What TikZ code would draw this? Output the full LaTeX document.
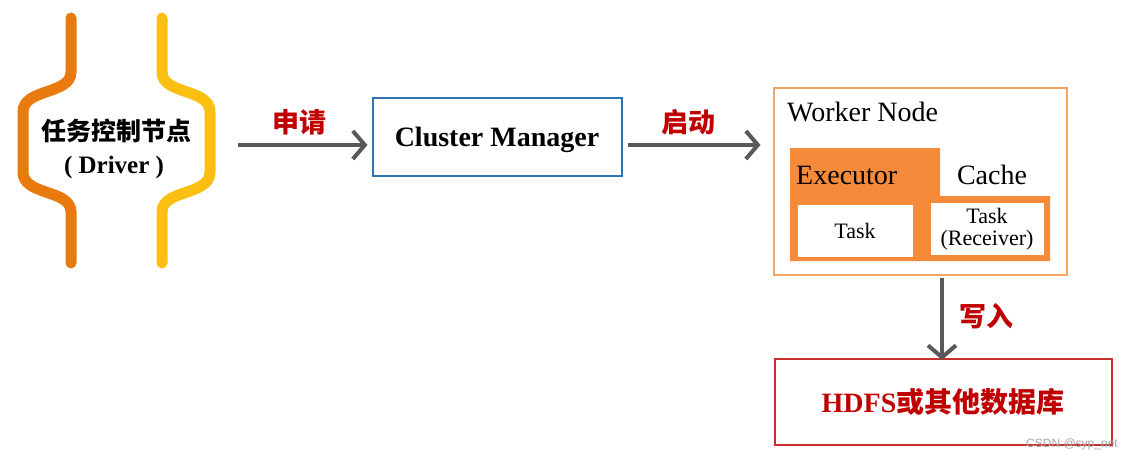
\documentclass[tikz,border=0pt]{standalone}
\usepackage{fontspec}
\setmainfont{Liberation Serif}
\newfontfamily\cjk{Noto Sans CJK SC}
\newfontfamily\wm{Liberation Sans}
\usetikzlibrary{arrows.meta}
\definecolor{borange}{HTML}{E97B0E}
\definecolor{byellow}{HTML}{FBBF12}
\definecolor{agrey}{HTML}{595959}
\definecolor{lred}{HTML}{C00000}
\definecolor{cmblue}{HTML}{2E75B6}
\definecolor{wnorange}{HTML}{F4A463}
\definecolor{exorange}{HTML}{F58B3A}
\definecolor{hdred}{HTML}{C9302C}
\tikzset{
  flowarrow/.style={draw=agrey, line width=4pt, -{Straight Barb[length=12pt,width=28pt,line width=4pt]}},
  lbl/.style={font=\cjk\bfseries\fontsize{27}{29}\selectfont, text=lred, inner sep=0pt},
  bracketline/.style={line width=11pt, line cap=round},
}
\begin{document}
\begin{tikzpicture}[x=1pt,y=-1pt]
\useasboundingbox (0,0) rectangle (1127,461);
\fill[white] (0,0) rectangle (1127,461);
% brackets
\draw[bracketline, draw=borange] (71,18) -- (71,72) .. controls (71,95) and (23,88) .. (23,112) -- (23,172) .. controls (23,196) and (71,189) .. (71,212) -- (71,263);
\draw[bracketline, draw=byellow] (162,18) -- (162,72) .. controls (162,95) and (210,88) .. (210,112) -- (210,172) .. controls (210,196) and (162,189) .. (162,212) -- (162,263);
\node[font=\cjk\bfseries\fontsize{25}{27}\selectfont, inner sep=0pt] (drv) at (116,131) {任务控制节点};
\node[font=\bfseries\fontsize{25}{27}\selectfont, inner sep=0pt] (drv2) at (114,167) {( Driver )};
\coordinate (a1s) at (238,145);
% cluster manager
\node[draw=cmblue, line width=2pt, minimum width=249pt, minimum height=78pt] (cm) at (497,137) {};
\node[font=\bfseries\fontsize{28}{30}\selectfont, inner sep=0pt] (cmt) at (497,140) {Cluster Manager};
\draw[flowarrow] (a1s) -- ([xshift=-4pt]cm.west |- a1s);
\node[lbl] (l1) at (299,122) {申请};
% worker node
\node[draw=wnorange, line width=2pt, minimum width=293pt, minimum height=187pt, inner sep=0pt] (wn) at (920,181) {};
\node[anchor=west, font=\fontsize{28}{30}\selectfont, inner sep=0pt] (wnt) at (787,112) {Worker Node};
\fill[exorange] (790,148) -- (940,148) -- (940,196) -- (1050,196) -- (1050,261) -- (790,261) -- cycle;
\node[anchor=west, font=\fontsize{28}{30}\selectfont, inner sep=0pt] (ex) at (796,175) {Executor};
\node[font=\fontsize{28}{30}\selectfont, inner sep=0pt] (ca) at (992,175) {Cache};
\node[fill=white, minimum width=115pt, minimum height=52pt, inner sep=0pt, font=\fontsize{22}{24}\selectfont] (t1) at (855,231) {Task};
\node[fill=white, minimum width=113pt, minimum height=52pt, inner sep=0pt, align=center, font=\fontsize{22}{22}\selectfont] (t2) at (987,229) {Task\\(Receiver)};
\draw[flowarrow] (cm.east |- a1s) ++(5,0) coordinate (a2s) -- ([xshift=-12pt]wn.west |- a1s);
\node[lbl] (l2) at (688,122) {启动};
% hdfs
\node[draw=hdred, line width=2pt, minimum width=337pt, minimum height=86pt, text=lred, font=\bfseries\fontsize{28}{30}\selectfont] (hd) at (943,402) {HDFS{\cjk 或其他数据库}};
\draw[flowarrow] (wn.south -| 942,0) ++(0,2) coordinate (a3s) -- ([yshift=-2pt]hd.north -| a3s);
\node[lbl] (l3) at (986,316) {写入};
\node[font=\wm\fontsize{12}{13}\selectfont, text=gray!70, inner sep=0pt] (wmk) at (1072,444) {CSDN @syp\_net};
\end{tikzpicture}
\end{document}
